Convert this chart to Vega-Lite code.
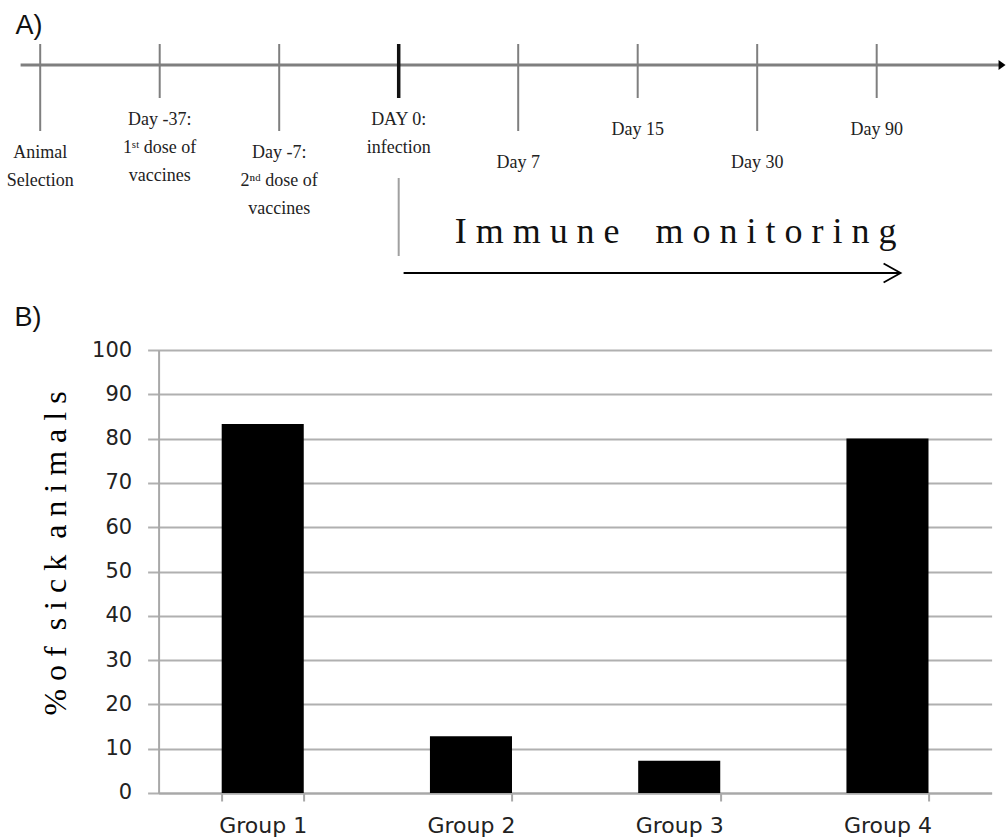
{
  "$schema": "https://vega.github.io/schema/vega-lite/v6.json",
  "padding": {"left": 6.6, "top": 12, "right": 0, "bottom": 0},
  "bounds": "flush",
  "spacing": 0,
  "background": "white",
  "config": {"view": {"stroke": null}},
  "datasets": {
    "events": [
      {"order": 0, "label": "Animal\nSelection", "tier": 2, "kind": "step", "lines": "multi"},
      {"order": 1, "label": "Day -37:\n1ˢᵗ dose of\nvaccines", "tier": 1, "kind": "step", "lines": "multi"},
      {"order": 2, "label": "Day -7:\n2ⁿᵈ dose of\nvaccines", "tier": 2, "kind": "step", "lines": "multi"},
      {"order": 3, "label": "DAY 0:\ninfection", "tier": 1, "kind": "infection", "lines": "multi"},
      {"order": 4, "label": "Day 7", "tier": 2, "kind": "step", "lines": "single"},
      {"order": 5, "label": "Day 15", "tier": 1, "kind": "step", "lines": "single"},
      {"order": 6, "label": "Day 30", "tier": 2, "kind": "step", "lines": "single"},
      {"order": 7, "label": "Day 90", "tier": 1, "kind": "step", "lines": "single"}
    ],
    "sick": [
      {"group": "Group 1", "pct": 83.3},
      {"group": "Group 2", "pct": 12.8},
      {"group": "Group 3", "pct": 7.3},
      {"group": "Group 4", "pct": 80}
    ]
  },
  "vconcat": [
    {
      "width": 847,
      "height": 306,
      "layer": [
        {
          "data": {"values": [{"part": "time axis"}]},
          "mark": {"type": "rule", "color": "#7f7f7f", "strokeWidth": 3},
          "encoding": {
            "x": {"datum": -0.164, "type": "quantitative", "scale": {"domain": [0.9908, 8.0787], "nice": false, "zero": false}, "axis": null},
            "x2": {"datum": 8.049},
            "y": {"datum": 0, "type": "quantitative", "scale": {"domain": [-0.6364, 8.6364], "nice": false, "zero": false, "reverse": true}, "axis": null}
          }
        },
        {
          "data": {"values": [{"part": "time axis arrowhead"}]},
          "mark": {"type": "point", "shape": "M-1,-1.4L1,0L-1,1.4Z", "filled": true, "color": "#000000", "size": 49, "opacity": 1},
          "encoding": {
            "x": {"datum": 8.049, "type": "quantitative", "scale": {"domain": [0.9908, 8.0787], "nice": false, "zero": false}, "axis": null},
            "y": {"datum": 0, "type": "quantitative", "scale": {"domain": [-0.6364, 8.6364], "nice": false, "zero": false, "reverse": true}, "axis": null}
          }
        },
        {
          "data": {"name": "events"},
          "transform": [{"filter": "datum.kind !== 'infection'"}],
          "mark": {"type": "rule", "color": "#7f7f7f", "strokeWidth": 2},
          "encoding": {
            "x": {"field": "order", "type": "quantitative", "scale": {"domain": [0.9908, 8.0787], "nice": false, "zero": false}, "axis": null},
            "y": {"field": "tier", "type": "quantitative", "scale": {"domain": [-0.6364, 8.6364], "nice": false, "zero": false, "reverse": true}, "axis": null},
            "y2": {"datum": -0.6364}
          }
        },
        {
          "data": {"name": "events"},
          "transform": [{"filter": "datum.kind === 'infection'"}],
          "mark": {"type": "rule", "color": "#111111", "strokeWidth": 3.5},
          "encoding": {
            "x": {"field": "order", "type": "quantitative", "scale": {"domain": [0.9908, 8.0787], "nice": false, "zero": false}, "axis": null},
            "y": {"field": "tier", "type": "quantitative", "scale": {"domain": [-0.6364, 8.6364], "nice": false, "zero": false, "reverse": true}, "axis": null},
            "y2": {"datum": -0.6364}
          }
        },
        {
          "data": {"name": "events"},
          "transform": [{"filter": "datum.lines === 'multi'"}],
          "mark": {"type": "text", "font": "Liberation Serif", "fontSize": 18, "lineHeight": 28, "lineBreak": "\n", "align": "center", "baseline": "alphabetic", "dy": 27, "color": "#222222"},
          "encoding": {
            "x": {"field": "order", "type": "quantitative", "scale": {"domain": [0.9908, 8.0787], "nice": false, "zero": false}, "axis": null},
            "y": {"field": "tier", "type": "quantitative", "scale": {"domain": [-0.6364, 8.6364], "nice": false, "zero": false, "reverse": true}, "axis": null},
            "text": {"field": "label", "type": "nominal"}
          }
        },
        {
          "data": {"name": "events"},
          "transform": [{"filter": "datum.lines === 'single'"}],
          "mark": {"type": "text", "font": "Liberation Serif", "fontSize": 18, "lineHeight": 28, "lineBreak": "\n", "align": "center", "baseline": "alphabetic", "dy": 37, "color": "#222222"},
          "encoding": {
            "x": {"field": "order", "type": "quantitative", "scale": {"domain": [0.9908, 8.0787], "nice": false, "zero": false}, "axis": null},
            "y": {"field": "tier", "type": "quantitative", "scale": {"domain": [-0.6364, 8.6364], "nice": false, "zero": false, "reverse": true}, "axis": null},
            "text": {"field": "label", "type": "nominal"}
          }
        },
        {
          "data": {"values": [{"part": "infection marker"}]},
          "mark": {"type": "rule", "color": "#a0a0a0", "strokeWidth": 2},
          "encoding": {
            "x": {"datum": 3, "type": "quantitative", "scale": {"domain": [0.9908, 8.0787], "nice": false, "zero": false}, "axis": null},
            "y": {"datum": 3.424, "type": "quantitative", "scale": {"domain": [-0.6364, 8.6364], "nice": false, "zero": false, "reverse": true}, "axis": null},
            "y2": {"datum": 5.788}
          }
        },
        {
          "data": {"values": [{"note": "I m m u n e\u00a0\u00a0\u00a0 m o n i t o r i n g"}]},
          "mark": {"type": "text", "font": "Liberation Serif", "fontSize": 36, "align": "center", "baseline": "alphabetic", "color": "#111111"},
          "encoding": {
            "x": {"datum": 5.317, "type": "quantitative", "scale": {"domain": [0.9908, 8.0787], "nice": false, "zero": false}, "axis": null},
            "y": {"datum": 5.394, "type": "quantitative", "scale": {"domain": [-0.6364, 8.6364], "nice": false, "zero": false, "reverse": true}, "axis": null},
            "text": {"field": "note", "type": "nominal"}
          }
        },
        {
          "data": {"values": [{"part": "monitoring arrow"}]},
          "mark": {"type": "rule", "color": "#000000", "strokeWidth": 2},
          "encoding": {
            "x": {"datum": 3.041, "type": "quantitative", "scale": {"domain": [0.9908, 8.0787], "nice": false, "zero": false}, "axis": null},
            "x2": {"datum": 7.2},
            "y": {"datum": 6.303, "type": "quantitative", "scale": {"domain": [-0.6364, 8.6364], "nice": false, "zero": false, "reverse": true}, "axis": null}
          }
        },
        {
          "data": {"values": [{"part": "monitoring arrowhead"}]},
          "mark": {"type": "point", "shape": "M-1,-0.56L0,0L-1,0.56", "filled": false, "color": "#000000", "size": 1156, "strokeWidth": 1.8, "opacity": 1},
          "encoding": {
            "x": {"datum": 7.2, "type": "quantitative", "scale": {"domain": [0.9908, 8.0787], "nice": false, "zero": false}, "axis": null},
            "y": {"datum": 6.303, "type": "quantitative", "scale": {"domain": [-0.6364, 8.6364], "nice": false, "zero": false, "reverse": true}, "axis": null}
          }
        },
        {
          "data": {"values": [{"panel": "A)"}]},
          "mark": {"type": "text", "font": "Liberation Sans", "fontSize": 27, "align": "left", "baseline": "alphabetic", "color": "#111111"},
          "encoding": {
            "x": {"datum": -0.206, "type": "quantitative", "scale": {"domain": [0.9908, 8.0787], "nice": false, "zero": false}, "axis": null},
            "y": {"datum": -0.939, "type": "quantitative", "scale": {"domain": [-0.6364, 8.6364], "nice": false, "zero": false, "reverse": true}, "axis": null},
            "text": {"field": "panel", "type": "nominal"}
          }
        },
        {
          "data": {"values": [{"panel": "B)"}]},
          "mark": {"type": "text", "font": "Liberation Sans", "fontSize": 27, "align": "left", "baseline": "alphabetic", "color": "#111111"},
          "encoding": {
            "x": {"datum": -0.215, "type": "quantitative", "scale": {"domain": [0.9908, 8.0787], "nice": false, "zero": false}, "axis": null},
            "y": {"datum": 7.909, "type": "quantitative", "scale": {"domain": [-0.6364, 8.6364], "nice": false, "zero": false, "reverse": true}, "axis": null},
            "text": {"field": "panel", "type": "nominal"}
          }
        }
      ]
    },
    {
      "width": 833,
      "height": 443,
      "data": {"name": "sick"},
      "mark": {"type": "bar", "color": "#000000"},
      "encoding": {
        "x": {
          "field": "group", "type": "nominal", "sort": null,
          "scale": {"paddingInner": 0.606, "paddingOuter": 0.303},
          "axis": {"title": null, "labelAngle": 0, "labelFont": "DejaVu Sans", "labelFontSize": 22, "labelColor": "#222222", "labelPadding": 15, "tickBand": "extent", "tickSize": 8, "tickColor": "#a8a8a8", "tickWidth": 2, "domainColor": "#a8a8a8", "domainWidth": 2}
        },
        "y": {
          "field": "pct", "type": "quantitative",
          "scale": {"domain": [0, 100], "nice": false},
          "axis": {
            "values": [0, 10, 20, 30, 40, 50, 60, 70, 80, 90, 100],
            "title": "% o f\u00a0 s i c k\u00a0 a n i m a l s",
            "grid": true, "gridColor": "#b0b0b0", "gridWidth": 2,
            "tickSize": 11, "tickColor": "#b0b0b0", "tickWidth": 2,
            "domainColor": "#a8a8a8", "domainWidth": 2,
            "labelFont": "DejaVu Sans", "labelFontSize": 21, "labelColor": "#222222", "labelPadding": 16,
            "titleFont": "Liberation Serif", "titleFontSize": 32, "titleFontWeight": "normal", "titleColor": "#000000", "titlePadding": 19, "titleY": 203
          }
        }
      }
    }
  ]
}
